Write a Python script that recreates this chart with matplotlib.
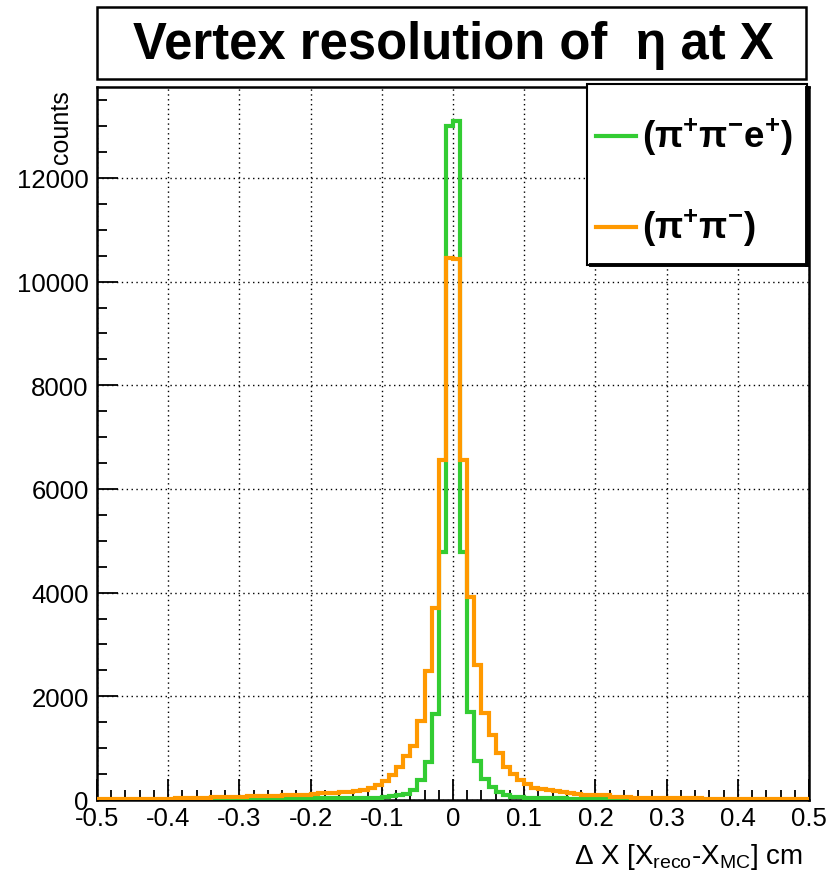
import numpy as np
import matplotlib
matplotlib.use("Agg")
import matplotlib.pyplot as plt
from matplotlib.patches import Rectangle
from matplotlib.lines import Line2D
from matplotlib.ticker import MultipleLocator

plt.rcParams['font.family'] = ['Liberation Sans', 'DejaVu Sans']
plt.rcParams['axes.unicode_minus'] = False
plt.rcParams['mathtext.fontset'] = 'custom'
plt.rcParams['mathtext.rm'] = 'Liberation Sans'
plt.rcParams['mathtext.it'] = 'Liberation Sans'
plt.rcParams['mathtext.bf'] = 'Liberation Sans:bold'

# ---------------- data ----------------
bin_edges = np.round(np.linspace(-0.5, 0.5, 101), 3)

green_left = [3, 4, 5, 3, 4, 6, 5, 4, 5, 6, 5, 6, 7, 6, 8, 7, 8, 9, 10, 12,
              18, 20, 22, 22,
              26, 28, 28, 30, 30, 32,
              33, 35, 35, 36, 38,
              40, 42, 44, 46, 48,
              55, 70, 100, 125, 200, 390, 740, 1650, 4780, 13000]
green_right = [13100, 4780, 1700, 760, 406, 245, 152, 97, 66, 58,
               42, 40, 38,
               32, 30, 30, 28, 27, 26, 25,
               22, 20, 20, 18, 16,
               12, 10, 10, 9, 8, 8, 7, 7, 6, 6, 5, 5, 5, 4, 4, 4, 3, 3, 3, 3,
               2, 2, 2, 2, 2]
orange_left = [15, 20, 18, 16, 20, 18, 22, 19, 20, 18, 22,
               35, 38, 40, 39, 42,
               60, 62, 65, 64, 66,
               80, 82, 84, 83, 86,
               95, 97, 98, 100,
               120, 128, 132, 140, 148, 160, 175, 200, 235, 290,
               365, 485, 635, 845, 1050, 1530, 2490, 3700, 6550, 10450]
orange_right = [10430, 6550, 3910, 2600, 1670, 1250, 915, 640, 500, 385,
                300, 240, 205, 192, 165, 155, 135, 125, 100, 97,
                95, 92, 66, 64, 62,
                36, 34, 35, 33, 36, 32, 34, 33, 30, 31,
                19, 17, 20, 18, 19, 16, 18, 20, 17, 19, 16, 18, 17, 19, 18]

green_counts = np.array(green_left + green_right, dtype=float)
orange_counts = np.array(orange_left + orange_right, dtype=float)

series_labels = [r'$\mathbf{(\pi^{+}\pi^{-}e^{+})}$', r'$\mathbf{(\pi^{+}\pi^{-})}$']
green_color = '#33cc33'
orange_color = '#ff9900'

x_ticks = [-0.5, -0.4, -0.3, -0.2, -0.1, 0.0, 0.1, 0.2, 0.3, 0.4, 0.5]
x_tick_labels = ['-0.5', '-0.4', '-0.3', '-0.2', '-0.1', '0', '0.1', '0.2', '0.3', '0.4', '0.5']
y_ticks = [0, 2000, 4000, 6000, 8000, 10000, 12000]

title_text = 'Vertex resolution of  \u03b7 at X'
xlabel_text = r'$\Delta$ X [X$_{\mathrm{reco}}$-X$_{\mathrm{MC}}$] cm'
ylabel_text = 'counts'

# ---------------- figure ----------------
W, H = 831, 879
fig = plt.figure(figsize=(W / 100, H / 100), dpi=100)

def fx(px):
    return px / W

def fy(py):
    return 1 - py / H

ax_l, ax_r, ax_t, ax_b = 97, 809, 88, 801
ax = fig.add_axes([fx(ax_l), fy(ax_b), fx(ax_r - ax_l), (ax_b - ax_t) / H])

ax.stairs(green_counts, bin_edges, baseline=None, color=green_color, lw=3.0, zorder=3)
ax.stairs(orange_counts, bin_edges, baseline=None, color=orange_color, lw=3.0, zorder=4)

ax.set_xlim(-0.5, 0.5)
ax.set_ylim(0, green_counts.max() * 1.05)

ax.set_xticks(x_ticks)
ax.set_xticklabels(x_tick_labels)
ax.set_yticks(y_ticks)
ax.xaxis.set_minor_locator(MultipleLocator(0.02))
ax.yaxis.set_minor_locator(MultipleLocator(500))
ax.tick_params(axis='both', which='major', direction='in', length=15, width=1.3,
               labelsize=18.5, colors='black')
ax.tick_params(axis='both', which='minor', direction='in', length=7.5, width=1.3)
ax.tick_params(axis='x', pad=4)
ax.tick_params(axis='y', pad=6)
ax.tick_params(top=False, right=False, which='both')

ax.set_axisbelow(True)
ax.grid(True, which='major', color='black', linestyle=(0, (1, 2.5)), linewidth=1.0)

for s in ax.spines.values():
    s.set_linewidth(1.8)
    s.set_color('black')

# axis labels
fig.text(fx(803), fy(864), xlabel_text, ha='right', va='baseline', fontsize=20)
fig.text(fx(61), fy(90), ylabel_text, ha='center', va='top', rotation=90, fontsize=18)

# title box
title_box = Rectangle((fx(97), fy(80)), fx(806 - 97), (80 - 8) / H, transform=fig.transFigure,
                      facecolor='white', edgecolor='black', lw=1.8, zorder=5)
fig.add_artist(title_box)
fig.text(fx(453), fy(45), title_text, ha='center', va='center', fontsize=36.5,
         fontweight='bold', zorder=6)

# legend box with shadow
lx0, lx1, ly0, ly1 = 587, 807, 85, 266
leg_box = Rectangle((fx(lx0), fy(ly1)), fx(lx1 - lx0), (ly1 - ly0) / H, transform=fig.transFigure,
                    facecolor='white', edgecolor='black', lw=1.5, zorder=7)
fig.add_artist(leg_box)
fig.add_artist(Line2D([fx(lx1), fx(lx1)], [fy(ly0 + 4), fy(ly1)], transform=fig.transFigure,
                      color='black', lw=2.8, zorder=8))
fig.add_artist(Line2D([fx(lx0 + 4), fx(lx1)], [fy(ly1), fy(ly1)], transform=fig.transFigure,
                      color='black', lw=2.8, zorder=8))

entry_y = [137, 228]
entry_colors = [green_color, orange_color]
for yy, col, lab in zip(entry_y, entry_colors, series_labels):
    fig.add_artist(Line2D([fx(596), fx(636)], [fy(yy), fy(yy)], transform=fig.transFigure,
                          color=col, lw=3.0, zorder=9))
    fig.text(fx(642), fy(yy), lab, ha='left', va='center', fontsize=26.5, zorder=9)

fig.savefig('out.png', dpi=100)
